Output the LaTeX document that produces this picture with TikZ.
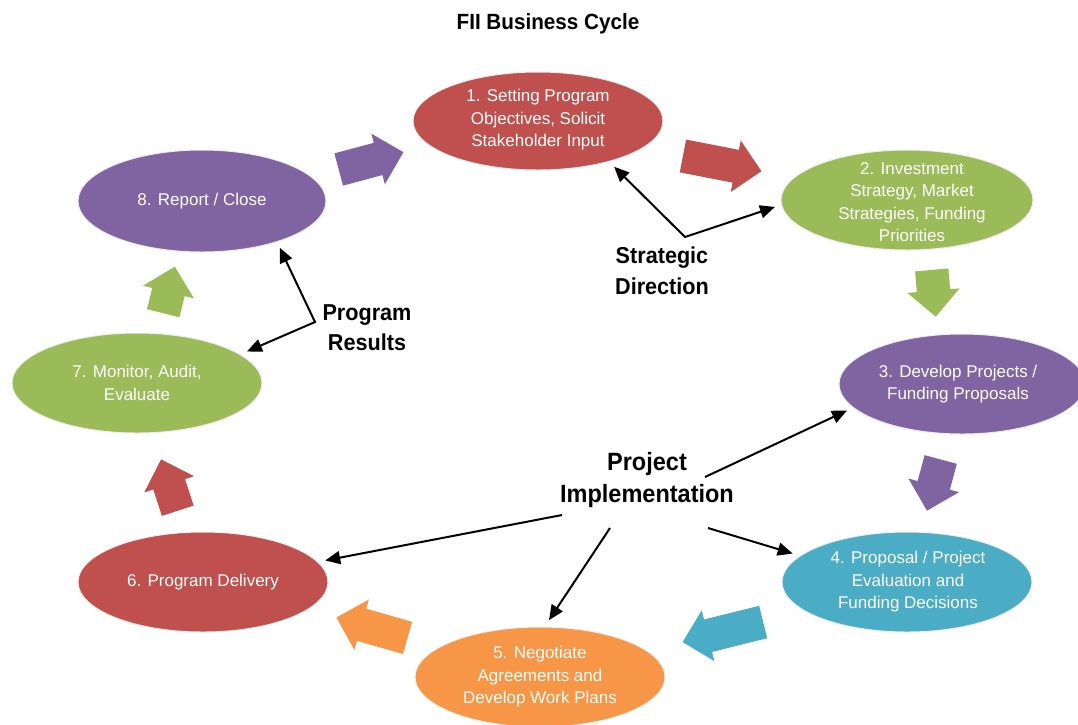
\documentclass[tikz,border=0pt]{standalone}
\usepackage{fontspec}
\setmainfont{Liberation Sans}
\newfontfamily\headfont{Liberation Sans}[FakeStretch=0.94]
\usetikzlibrary{shapes.geometric,shapes.arrows,arrows.meta}

\definecolor{cycred}{HTML}{C0504D}
\definecolor{cycgreen}{HTML}{9BBB59}
\definecolor{cycpurple}{HTML}{8064A2}
\definecolor{cycblue}{HTML}{4BACC6}
\definecolor{cycorange}{HTML}{F79646}

\begin{document}
\begin{tikzpicture}[x=1pt,y=-1pt,
  stage/.style={ellipse, fill=#1, draw=black!7, line width=1pt,
    inner sep=0pt, outer sep=7pt, minimum width=250pt, minimum height=100pt},
  stagetext/.style={text=white, align=center, inner sep=0pt,
    font=\fontsize{17}{22.5}\selectfont},
  flow/.style={single arrow, fill=#1, draw=none, inner xsep=0pt, inner ysep=16.5pt,
    single arrow head extend=9.5pt, single arrow tip angle=90},
  callout/.style={align=center, inner sep=0pt, text=black},
  conn/.style={line width=2pt, draw=black},
  tip/.tip={Triangle[length=15pt,width=13pt]}
]
\useasboundingbox (0,0) rectangle (1078,724);

% heading
\node[callout, font=\headfont\bfseries\fontsize{22}{26}\selectfont] (title) at (548,24) {FII Business Cycle};

% the eight stages of the cycle
\node[stage=cycred, minimum width=250pt, minimum height=98pt] (s1) at (538,121) {};
\node[stage=cycgreen, minimum width=252pt] (s2) at (907,200) {};
\node[stage=cycpurple, minimum width=246pt] (s3) at (962,384) {};
\node[stage=cycblue] (s4) at (907,582) {};
\node[stage=cycorange] (s5) at (540,677) {};
\node[stage=cycred] (s6) at (203,582) {};
\node[stage=cycgreen] (s7) at (137,383) {};
\node[stage=cycpurple, minimum width=248pt, minimum height=102pt] (s8) at (202,201) {};

\node[stagetext] (t1) at (538,120) {1. Setting Program\\Objectives, Solicit\\Stakeholder Input};
\node[stagetext] (t2) at (912,202) {2. Investment\\Strategy, Market\\Strategies, Funding\\Priorities};
\node[stagetext] (t3) at (958,384) {3. Develop Projects /\\Funding Proposals};
\node[stagetext] (t4) at (908,582) {4. Proposal / Project\\Evaluation and\\Funding Decisions};
\node[stagetext] (t5) at (540,677) {5. Negotiate\\Agreements and\\Develop Work Plans};
\node[stagetext] (t6) at (203,582) {6. Program Delivery};
\node[stagetext] (t7) at (137,383) {7. Monitor, Audit,\\Evaluate};
\node[stagetext] (t8) at (202,201) {8. Report / Close};

% block arrows between consecutive stages
\node[flow=cycpurple, minimum height=67pt, rotate=15]  (f81) at (363,163) {};
\node[flow=cycred,    minimum height=80pt, rotate=-11] (f12) at (714,162) {};
\node[flow=cycgreen,  minimum height=47pt, rotate=-85] (f23) at (933,285) {};
\node[flow=cycpurple, minimum height=53pt, rotate=-105] (f34) at (936,477) {};
\node[flow=cycblue,   minimum height=83pt, rotate=194] (f45) at (731,630) {};
\node[flow=cycorange, minimum height=74pt, rotate=164] (f56) at (380,630) {};
\node[flow=cycred,    minimum height=54pt, rotate=108] (f67) at (172,493) {};
\node[flow=cycgreen,  minimum height=48pt, rotate=76]  (f78) at (167,298) {};

% callout labels
\node[callout, font=\headfont\bfseries\fontsize{23}{31}\selectfont] (sd) at (662,271) {Strategic\\Direction};
\node[callout, font=\headfont\bfseries\fontsize{23}{30}\selectfont] (pr) at (367,328) {Program\\Results};
\node[callout, font=\headfont\bfseries\fontsize{25}{32}\selectfont] (pi) at (647,480) {Project\\Implementation};

% callout connectors
\coordinate (j1) at (685,237);
\coordinate (j2) at (315,322);
\coordinate (p3) at (705,477);
\coordinate (p4) at (708,528);
\coordinate (p6) at (562,515);
\coordinate (p5) at (610,528);

\draw[conn, tip-tip] (s1.-31) -- (j1) -- (s2.183);
\draw[conn, tip-tip] (s8.-31) -- (j2) -- (s7.16);
\draw[conn, -tip] (p3) -- (s3.193);
\draw[conn, -tip] (p4) -- (s4.166);
\draw[conn, -tip] (p6) -- (s6.10);
\draw[conn, -tip] (p5) -- (s5.81);
\end{tikzpicture}
\end{document}
